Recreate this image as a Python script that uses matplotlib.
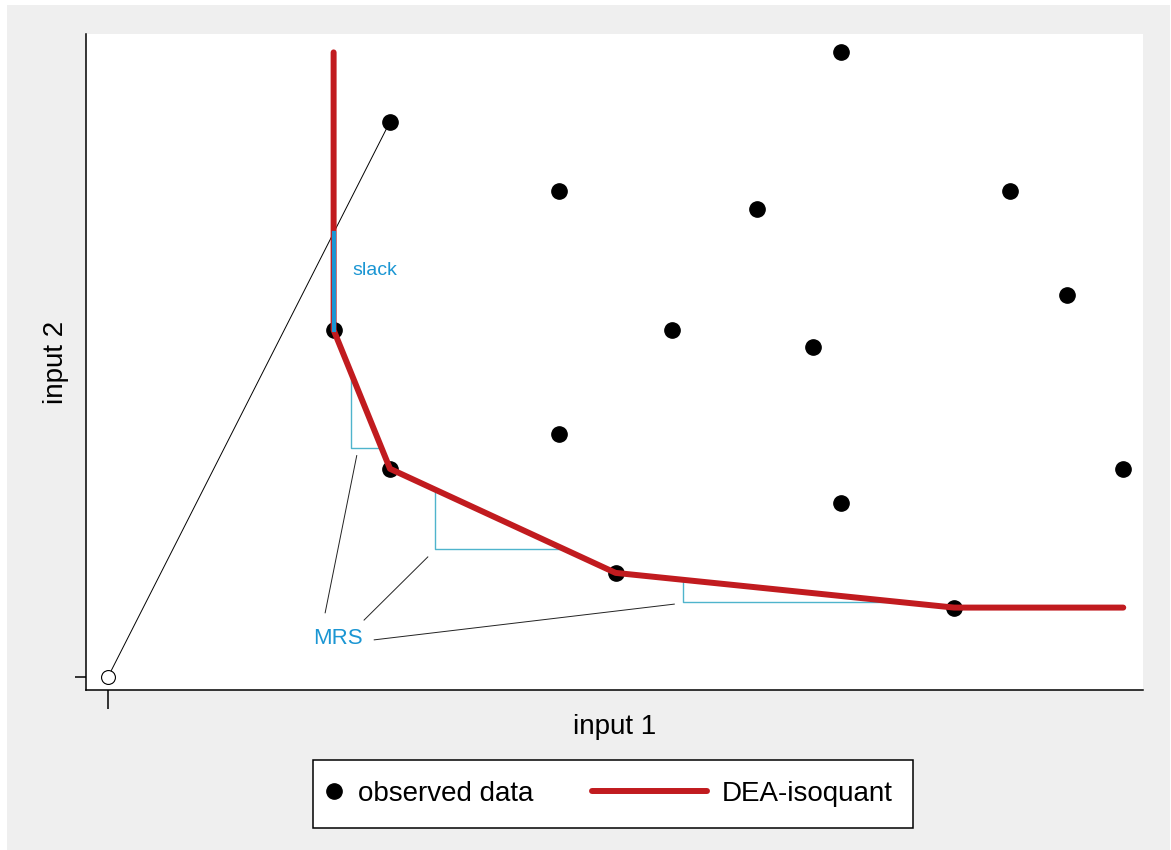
import numpy as np
import matplotlib
matplotlib.use("Agg")
import matplotlib.pyplot as plt
from matplotlib.lines import Line2D
from matplotlib.patches import Rectangle
from matplotlib.legend_handler import HandlerLine2D

plt.rcParams['font.family'] = ['Liberation Sans', 'DejaVu Sans']

# observed input combinations (input 1, input 2)
obs_x = [5, 13, 8, 11.5, 16, 17, 4, 10, 12.5, 8, 5, 18, 13, 9, 15]
obs_y = [16, 18, 14, 13.5, 14, 11, 10, 10, 9.5, 7, 6, 6, 5, 3, 2]

# DEA isoquant (piecewise linear frontier)
iso_x = [4, 4, 5, 9, 15, 18]
iso_y = [18, 10, 6, 3, 2, 2]

# radial projection of the inefficient unit
ray_target = (5, 16)

# MRS triangles: left edge x and base height
mrs_x0 = [4.3, 5.8, 10.2]
mrs_yb = [6.6, 3.7, 2.15]

# MRS label and leader lines
mrs_label = (4.08, 1.10)
lead_x = [[3.85, 4.41], [4.54, 5.67], [4.72, 10.04]]
lead_y = [[1.85, 6.38], [1.64, 3.46], [1.07, 2.10]]

RED = '#c11b1f'
BLUE = '#1b96d3'
CYAN = '#4fb4cc'


class LongLine(HandlerLine2D):
    # legend line reaching left of the handle box and a bit past its end
    def create_artists(self, legend, orig_handle, xdescent, ydescent,
                       width, height, fontsize, trans):
        extra = 3.80 * fontsize
        over = 0.32 * fontsize
        return super().create_artists(legend, orig_handle, xdescent + extra,
                                      ydescent, width + extra + over, height,
                                      fontsize, trans)


fig = plt.figure(figsize=(11.71, 8.5), dpi=100, facecolor='white')
fig.patches.append(Rectangle((7 / 1171, 0), 1163 / 1171, 845 / 850,
                             transform=fig.transFigure, facecolor='#efefef',
                             edgecolor='none', zorder=-10))
ax = fig.add_axes([86 / 1171, 160 / 850, 1057 / 1171, 656 / 850])
ax.set_facecolor('white')

# ray from origin
ax.plot([0, ray_target[0]], [0, ray_target[1]], color='black', lw=0.7, zorder=2)
ax.plot([0], [0], 'o', ms=10, mfc='white', mec='black', mew=0.8, zorder=3)

# MRS triangles
seg_x = np.array(iso_x[1:], dtype=float)
seg_y = np.array(iso_y[1:], dtype=float)
for x0, yb in zip(mrs_x0, mrs_yb):
    ytop = np.interp(x0, seg_x, seg_y)
    xr = np.interp(yb, seg_y[:-1][::-1], seg_x[:-1][::-1])
    ax.plot([x0, x0, xr], [ytop, yb, yb], color=CYAN, lw=1.0, zorder=2)

# leader lines
for lx, ly in zip(lead_x, lead_y):
    ax.plot(lx, ly, color='#222222', lw=0.7, zorder=2)

# observed data
ax.plot(obs_x, obs_y, 'o', ms=11, color='black', zorder=3)

# isoquant
ax.plot(iso_x, iso_y, color=RED, lw=4.3, solid_capstyle='round',
        solid_joinstyle='round', zorder=4)

# slack
slack_top = ray_target[1] * iso_x[1] / ray_target[0]
ax.plot([iso_x[1], iso_x[1]], [iso_y[1], slack_top], color=BLUE, lw=3,
        zorder=5)
ax.text(4.33, 11.7, 'slack', color=BLUE, fontsize=14, ha='left', va='center')
ax.text(mrs_label[0], mrs_label[1], 'MRS', color=BLUE, fontsize=16,
        ha='center', va='center')

ax.set_xlim(-0.39, 18.35)
ax.set_ylim(-0.375, 18.53)
ax.set_xticks([0])
ax.set_yticks([0])
ax.set_xticklabels([])
ax.set_yticklabels([])
ax.tick_params(axis='x', length=14, width=1.1, direction='out')
ax.tick_params(axis='y', length=8, width=1.1, direction='out')
for s in ['top', 'right']:
    ax.spines[s].set_visible(False)
for s in ['left', 'bottom']:
    ax.spines[s].set_linewidth(1.1)

ax.set_xlabel('input 1', fontsize=20)
ax.xaxis.set_label_coords(0.5, -0.057)
ax.xaxis.label.set_va('center')
ax.set_ylabel('input 2', fontsize=20)
ax.yaxis.set_label_coords(-0.028, 0.5)
ax.yaxis.label.set_va('center')

h_dot = Line2D([], [], marker='o', ls='none', ms=11, color='black')
h_line = Line2D([], [], color=RED, lw=4.3, solid_capstyle='round')
leg = fig.legend([h_dot, h_line], ['observed data', 'DEA-isoquant'],
                 loc='center', bbox_to_anchor=(613 / 1171, 56 / 850), ncol=2,
                 fontsize=20, frameon=True, fancybox=False, framealpha=1,
                 edgecolor='black', borderpad=0.74, handlelength=0.05,
                 handletextpad=0.83, columnspacing=5.89,
                 handler_map={h_line: LongLine()})
leg.get_frame().set_linewidth(1.1)

fig.savefig('out.png', dpi=100, facecolor=fig.get_facecolor())
